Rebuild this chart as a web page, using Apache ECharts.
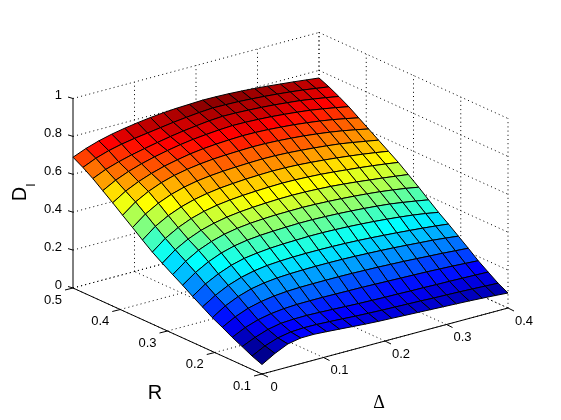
<!DOCTYPE html>
<html><head><meta charset="utf-8">
<style>html,body{margin:0;padding:0;background:#fff}#c{width:561px;height:420px}</style>
<script src="https://cdn.jsdelivr.net/npm/echarts@6/dist/echarts.min.js"></script>
</head><body><div id="c"></div>
<script>
const deltaValues=[0,.021,.042,.063,.084,.105,.126,.147,.168,.189,.211,.232,.253,.274,.295,.316,.337,.358,.379,.4];
const rValues=[.1,.121,.142,.163,.184,.205,.226,.247,.268,.289,.311,.332,.353,.374,.395,.416,.437,.458,.479,.5];
const zR01=[.05,.09,.122,.135,.136,.132,.127,.122,.117,.113,.11,.107,.104,.101,.098,.095,.092,.088,.084,.079];
const zR02=[.071,.106,.13,.143,.147,.146,.143,.139,.135,.132,.129,.127,.125,.123,.12,.118,.116,.113,.11,.107];
const zR03=[.097,.127,.151,.165,.169,.17,.168,.165,.162,.159,.157,.155,.154,.152,.151,.149,.148,.146,.144,.142];
const zR04=[.122,.155,.178,.192,.2,.204,.205,.205,.204,.203,.202,.2,.198,.196,.194,.192,.189,.186,.182,.178];
const zR05=[.151,.188,.215,.232,.243,.249,.252,.253,.253,.253,.252,.25,.248,.245,.242,.238,.234,.23,.225,.22];
const zR06=[.178,.222,.253,.275,.288,.296,.30,.302,.303,.303,.302,.30,.297,.294,.29,.285,.28,.275,.268,.26];
const zR07=[.211,.254,.288,.312,.328,.338,.343,.346,.347,.347,.346,.344,.341,.337,.332,.327,.321,.315,.308,.30];
const zR08=[.243,.29,.325,.352,.37,.38,.387,.391,.393,.395,.395,.393,.39,.386,.381,.375,.368,.36,.35,.338];
const zR09=[.278,.327,.365,.393,.412,.424,.431,.435,.438,.44,.44,.438,.435,.431,.426,.42,.413,.403,.392,.38];
const zR10=[.31,.362,.402,.43,.45,.463,.471,.476,.479,.48,.481,.479,.476,.472,.467,.461,.454,.445,.435,.423];
const zR11=[.345,.398,.436,.464,.483,.497,.506,.512,.516,.519,.52,.519,.516,.512,.506,.499,.491,.483,.474,.465];
const zR12=[.38,.434,.473,.502,.522,.536,.545,.551,.555,.558,.56,.559,.556,.552,.546,.539,.532,.524,.515,.505];
const zR13=[.42,.474,.512,.54,.56,.574,.584,.59,.595,.598,.60,.599,.596,.591,.585,.578,.57,.561,.551,.54];
const zR14=[.462,.515,.554,.582,.602,.616,.625,.631,.635,.638,.64,.639,.636,.631,.625,.618,.61,.599,.587,.575];
const zR15=[.503,.555,.592,.62,.64,.654,.664,.671,.675,.678,.68,.679,.676,.671,.665,.657,.648,.637,.624,.61];
const zR16=[.545,.588,.62,.645,.665,.68,.693,.702,.708,.712,.715,.714,.711,.706,.70,.692,.683,.672,.659,.645];
const zR17=[.585,.622,.65,.672,.69,.705,.718,.728,.735,.741,.745,.744,.741,.737,.731,.724,.716,.705,.693,.68];
const zR18=[.625,.655,.677,.695,.71,.724,.737,.748,.757,.765,.77,.769,.766,.762,.757,.75,.743,.733,.722,.71];
const zR19=[.66,.69,.712,.728,.74,.75,.76,.77,.778,.785,.79,.789,.787,.783,.778,.772,.765,.757,.747,.737];
const zR20=[.69,.718,.74,.757,.77,.781,.79,.797,.802,.805,.808,.807,.805,.801,.796,.79,.783,.776,.768,.76];
const zRows=[zR01,zR02,zR03,zR04,zR05,zR06,zR07,zR08,zR09,zR10,zR11,zR12,zR13,zR14,zR15,zR16,zR17,zR18,zR19,zR20];
const deltaTicks=[0,.1,.2,.3,.4];
const rTicks=[.1,.2,.3,.4,.5];
const zTicks=[0,.2,.4,.6,.8,1];
const D0=0,D1=.4,R0=.1,R1=.5,Z1=1;

function proj(d,r,z){
  const a=(d-D0)/(D1-D0),b=(r-R0)/(R1-R0);
  return [262+a*246-b*189, 374-a*66-b*86-z*189.5];
}
function jet(z,lo,hi){
  const idx=Math.min(63,Math.floor((z-lo)/(hi-lo)*64));
  const t=(idx+1)/64;
  const c=v=>Math.round(255*Math.max(0,Math.min(1,v)));
  return `rgb(${c(1.5-Math.abs(4*t-3))},${c(1.5-Math.abs(4*t-2))},${c(1.5-Math.abs(4*t-1))})`;
}
const all=zRows.flat();const zLo=Math.min(...all),zHi=Math.max(...all);

// faces, painted from the far corner to the near one
const faces=[];
for(let j=rValues.length-2;j>=0;j--)for(let i=deltaValues.length-2;i>=0;i--){
  faces.push([deltaValues[i],rValues[j],zRows[j][i],
    deltaValues[i+1],rValues[j],zRows[j][i+1],
    deltaValues[i+1],rValues[j+1],zRows[j+1][i+1],
    deltaValues[i],rValues[j+1],zRows[j+1][i]]);
}
// dotted wall and floor lines
const gridSegs=[];
zTicks.forEach(z=>{gridSegs.push([D0,R1,z,D1,R1,z]);gridSegs.push([D1,R1,z,D1,R0,z]);});
deltaTicks.forEach(d=>{gridSegs.push([d,R0,0,d,R1,0]);if(d>D0)gridSegs.push([d,R1,0,d,R1,Z1]);});
rTicks.forEach(r=>{gridSegs.push([D0,r,0,D1,r,0]);gridSegs.push([D1,r,0,D1,r,Z1]);});

const axisSegs=[[D0,R0,0,D1,R0,0],[D0,R0,0,D0,R1,0],[D0,R1,0,D0,R1,Z1]];
const base={type:'custom',coordinateSystem:'cartesian2d',silent:true,animation:false,clip:false};
const labelFont='13px "Liberation Sans"';
const txt=(c,text,font,extra)=>Object.assign({type:'text',x:c[0],y:c[1],
  style:{text,font,fill:'#000',align:'center',verticalAlign:'middle'}},extra||{});

const option={
  animation:false,backgroundColor:'#fff',
  grid:{left:0,right:0,top:0,bottom:0},
  xAxis:{type:'value',min:0,max:561,show:false},
  yAxis:{type:'value',min:0,max:420,inverse:true,show:false},
  series:[
   Object.assign({},base,{name:'grid',data:gridSegs,encode:{x:0,y:1},
    renderItem(p,api){
      const a=api.coord(proj(api.value(0),api.value(1),api.value(2)));
      const b=api.coord(proj(api.value(3),api.value(4),api.value(5)));
      return {type:'line',shape:{x1:a[0],y1:a[1],x2:b[0],y2:b[1]},
        style:{stroke:'#000',lineWidth:1,lineDash:[1,3.2],fill:null}};
    }}),
   Object.assign({},base,{name:'axes',data:axisSegs,encode:{x:0,y:1},z:3,
    renderItem(p,api){
      const a=api.coord(proj(api.value(0),api.value(1),api.value(2)));
      const b=api.coord(proj(api.value(3),api.value(4),api.value(5)));
      return {type:'line',shape:{x1:a[0],y1:a[1],x2:b[0],y2:b[1]},style:{stroke:'#000',lineWidth:1,fill:null}};
    }}),
   Object.assign({},base,{name:'deltaTicks',data:deltaTicks.map(d=>[d]),encode:{x:0},z:3,
    renderItem(p,api){
      const d=api.value(0),c=api.coord(proj(d,R0,0));
      return {type:'group',children:[
        {type:'line',shape:{x1:c[0],y1:c[1],x2:c[0]+6,y2:c[1]+3},style:{stroke:'#000',lineWidth:1}},
        txt([c[0]+(d===0?12:16),c[1]+13],d===0?'0':d.toFixed(1),labelFont)]};
    }}),
   Object.assign({},base,{name:'rTicks',data:rTicks.map(r=>[r]),encode:{x:0},z:3,
    renderItem(p,api){
      const r=api.value(0),c=api.coord(proj(D0,r,0));
      return {type:'group',children:[
        {type:'line',shape:{x1:c[0],y1:c[1],x2:c[0]-8,y2:c[1]+2},style:{stroke:'#000',lineWidth:1}},
        txt([c[0]-20,c[1]+12],r.toFixed(1),labelFont)]};
    }}),
   Object.assign({},base,{name:'zTicks',data:zTicks.map(z=>[z]),encode:{x:0},z:3,
    renderItem(p,api){
      const z=api.value(0),c=api.coord(proj(D0,R1,z));
      const s=(z===0||z===1)?String(z):z.toFixed(1);
      return {type:'group',children:[
        {type:'line',shape:{x1:c[0],y1:c[1],x2:c[0]-5,y2:c[1]-1.5},style:{stroke:'#000',lineWidth:1}},
        {type:'text',x:c[0]-11,y:c[1]-3,style:{text:s,font:labelFont,fill:'#000',align:'right',verticalAlign:'middle'}}]};
    }}),
   Object.assign({},base,{name:'surface',data:faces,encode:{x:0,y:1},z:5,
    renderItem(p,api){
      const pts=[0,3,6,9].map(k=>api.coord(proj(api.value(k),api.value(k+1),api.value(k+2))));
      return {type:'polygon',shape:{points:pts},
        style:{fill:jet(api.value(2),zLo,zHi),stroke:'#000',lineWidth:1,lineJoin:'miter'}};
    }}),
   Object.assign({},base,{name:'titles',data:[[0]],encode:{x:0},z:6,
    renderItem(p,api){
      return {type:'group',children:[
        txt(api.coord([155,393]),'R','20px "Liberation Sans"'),
        txt(api.coord([379,403]),'Δ','18px "Liberation Serif"'),
        txt(api.coord([20,194]),'D','20px "Liberation Sans"',{rotation:Math.PI/2}),
        txt(api.coord([31,185]),'l','13px "Liberation Sans"',{rotation:Math.PI/2})]};
    }})
  ]
};
echarts.init(document.getElementById('c'),null,{renderer:'canvas'}).setOption(option);
</script></body></html>
